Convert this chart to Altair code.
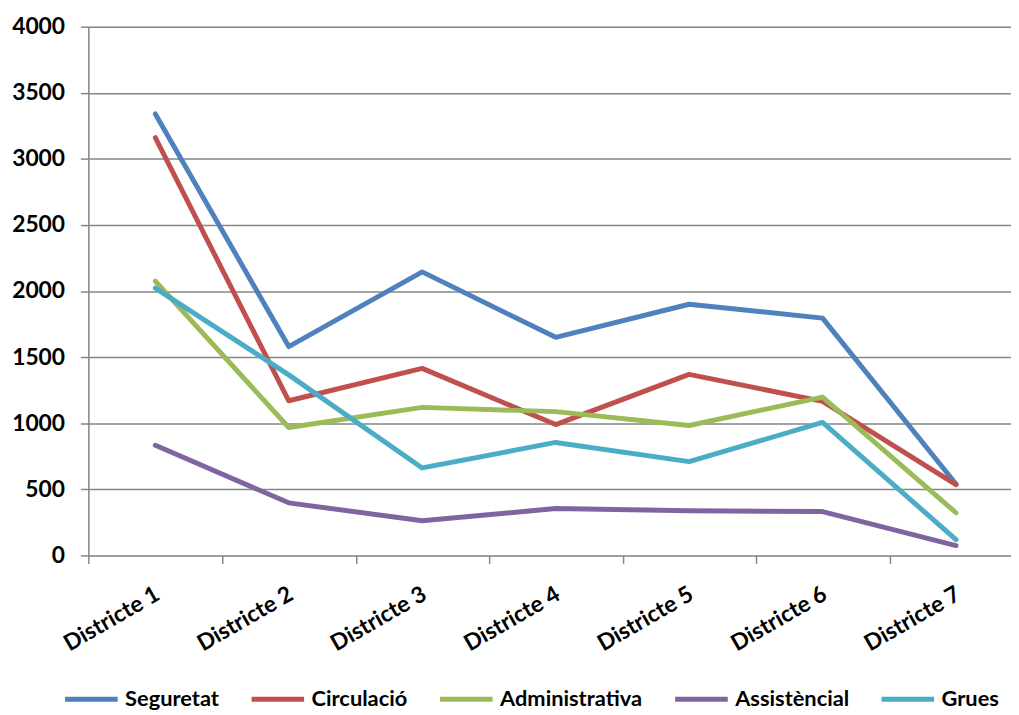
import altair as alt
import pandas as pd

districts = ["Districte 1", "Districte 2", "Districte 3", "Districte 4", "Districte 5", "Districte 6", "Districte 7"]
series_names = ["Seguretat", "Circulació", "Administrativa", "Assistèncial", "Grues"]
seguretat = [3340, 1580, 2145, 1650, 1900, 1795, 540]
circulacio = [3160, 1170, 1415, 990, 1370, 1165, 535]
administrativa = [2075, 968, 1120, 1088, 983, 1198, 323]
assistencial = [833, 398, 262, 355, 338, 332, 75]
grues = [2022, 1366, 662, 855, 710, 1006, 120]
colors = ["#4F81BD", "#C0504D", "#9BBB59", "#8064A2", "#4BACC6"]
y_ticks = [0, 500, 1000, 1500, 2000, 2500, 3000, 3500, 4000]

values = [seguretat, circulacio, administrativa, assistencial, grues]
rows = []
for name, vals in zip(series_names, values):
    for d, v in zip(districts, vals):
        rows.append({"district": d, "serie": name, "value": v})
df = pd.DataFrame(rows)

FONT = "Lato"

chart = alt.Chart(df).mark_line(strokeWidth=5, strokeCap="round", strokeJoin="round").encode(
    x=alt.X("district:N", sort=districts, title=None,
            scale=alt.Scale(type="point", padding=0.457, align=0.549),
            axis=alt.Axis(domain=False, grid=False, ticks=True, tickSize=8, tickOffset=-67,
                          tickColor="#868686", tickWidth=1.5, labelAngle=330, labelAlign="right",
                          labelBaseline="middle", labelPadding=29, labelOffset=69,
                          labelFont=FONT, labelFontSize=23, labelFontWeight="bold",
                          labelColor="#000000")),
    y=alt.Y("value:Q", title=None,
            scale=alt.Scale(domain=[0, 4000], nice=False),
            axis=alt.Axis(values=y_ticks, format="d", grid=True, gridColor="#868686", gridWidth=1.5,
                          domain=True, domainColor="#868686", domainWidth=1.5,
                          tickSize=8, tickColor="#868686", tickWidth=1.5, labelPadding=16,
                          labelFont=FONT, labelFontSize=23, labelFontWeight="bold",
                          labelColor="#000000")),
    color=alt.Color("serie:N", sort=series_names,
                    scale=alt.Scale(domain=series_names, range=colors),
                    legend=alt.Legend(orient="none", direction="horizontal", title=None,
                                      legendX=-26, legendY=649,
                                      symbolType="stroke", symbolSize=2809, symbolStrokeWidth=5,
                                      labelFont=FONT, labelFontSize=22, labelFontWeight="bold",
                                      labelColor="#000000", labelOffset=5, columnPadding=22,
                                      columns=5)),
).properties(
    width=930, height=533,
    autosize=alt.AutoSizeParams(type="none"),
    padding={"left": 81, "top": 16, "right": 0, "bottom": 157},
).configure_view(stroke=None).configure(background="white")

chart.save("out.html", embed_options={"renderer": "svg", "actions": False})
